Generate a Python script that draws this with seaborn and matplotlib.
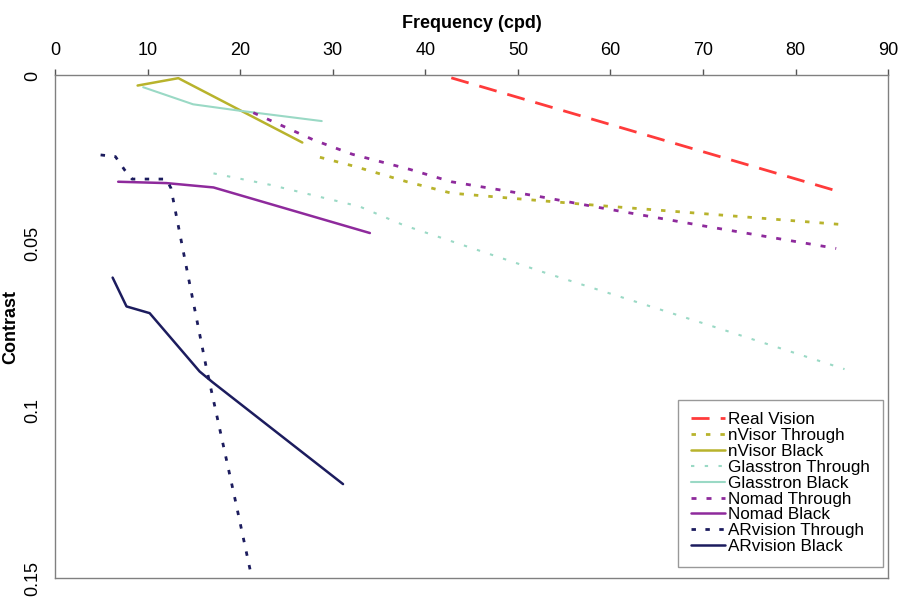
import matplotlib
matplotlib.use("Agg")
import matplotlib.pyplot as plt
import seaborn as sns
import pandas as pd

sns.set_theme(style="white")
plt.rcParams['font.family'] = ['Liberation Sans', 'DejaVu Sans']
plt.rcParams['text.color'] = 'black'
plt.rcParams['axes.labelcolor'] = 'black'

# ---- data ----
real_x = [42.8, 84.4]
real_y = [0.0007, 0.0344]

nvisor_thr_x = [28.6, 32.2, 38.0, 42.8, 49.2, 58.8, 71.8, 84.7]
nvisor_thr_y = [0.0244, 0.0270, 0.0317, 0.0351, 0.0366, 0.0388, 0.0416, 0.0444]

nvisor_blk_x = [8.9, 13.3, 26.7]
nvisor_blk_y = [0.0030, 0.0008, 0.0200]

glass_thr_x = [17.1, 23.2, 32.9, 37.6, 53.1, 70.0, 85.3]
glass_thr_y = [0.0292, 0.0326, 0.0391, 0.0446, 0.0590, 0.0739, 0.0876]

glass_blk_x = [9.5, 14.9, 19.9, 28.8]
glass_blk_y = [0.0035, 0.0086, 0.0105, 0.0136]

nomad_thr_x = [21.4, 27.9, 32.1, 38.3, 42.8, 52.3, 58.8, 69.9, 84.4]
nomad_thr_y = [0.0111, 0.0192, 0.0235, 0.0280, 0.0317, 0.0361, 0.0394, 0.0448, 0.0516]

nomad_blk_x = [6.8, 12.0, 17.1, 34.0]
nomad_blk_y = [0.0317, 0.0321, 0.0334, 0.0470]

arv_thr_x = [4.9, 6.5, 7.5, 8.3, 12.0, 12.5, 14.4, 16.3, 19.4, 21.1]
arv_thr_y = [0.0237, 0.0242, 0.0282, 0.0309, 0.0309, 0.0336, 0.0604, 0.0868, 0.1260, 0.1480]

arv_blk_x = [6.2, 7.7, 10.2, 15.6, 17.0, 31.1]
arv_blk_y = [0.0603, 0.0689, 0.0709, 0.0883, 0.0915, 0.1219]

labels = ["Real Vision", "nVisor Through", "nVisor Black", "Glasstron Through",
          "Glasstron Black", "Nomad Through", "Nomad Black",
          "ARvision Through", "ARvision Black"]

x_ticks = [0, 10, 20, 30, 40, 50, 60, 70, 80, 90]
y_ticks = [0, 0.05, 0.1, 0.15]
y_tick_labels = ["0", "0.05", "0.1", "0.15"]

series = [
    (real_x, real_y, "#FF3B3B", 2.0, (0, (6.5, 4.0))),
    (nvisor_thr_x, nvisor_thr_y, "#B8B32C", 2.0, (0, (1.6, 3.6))),
    (nvisor_blk_x, nvisor_blk_y, "#B8B32C", 1.8, "-"),
    (glass_thr_x, glass_thr_y, "#9AD9C5", 1.5, (0, (1.6, 5.0))),
    (glass_blk_x, glass_blk_y, "#9AD9C5", 1.5, "-"),
    (nomad_thr_x, nomad_thr_y, "#8E2A9C", 2.0, (0, (1.8, 3.6))),
    (nomad_blk_x, nomad_blk_y, "#8E2A9C", 1.8, "-"),
    (arv_thr_x, arv_thr_y, "#1C1C5E", 2.0, (0, (1.6, 3.4))),
    (arv_blk_x, arv_blk_y, "#1C1C5E", 1.8, "-"),
]

fig = plt.figure(figsize=(9, 6.01), dpi=100)
ax = fig.add_axes([0.0614, 0.0378, 0.9253, 0.8366])

for (xs, ys, col, lw, ls), lab in zip(series, labels):
    sns.lineplot(x=xs, y=ys, ax=ax, color=col, linewidth=lw, linestyle=ls,
                 label=lab, sort=False, estimator=None)

ax.set_xlim(0, 90)
ax.set_ylim(0.15, 0)
ax.xaxis.tick_top()
ax.xaxis.set_label_position("top")
ax.set_xticks(x_ticks)
ax.set_yticks(y_ticks)
ax.set_yticklabels(y_tick_labels, rotation=90, va="center")
ax.tick_params(axis="both", labelsize=13, labelcolor="black", color="#555555",
               length=4, width=1, direction="out")
ax.tick_params(axis="x", pad=8)
ax.tick_params(axis="y", pad=6)
ax.set_xlabel("Frequency (cpd)", fontsize=13, fontweight="bold", labelpad=10,
              color="black")
ax.set_ylabel("Contrast", fontsize=13, fontweight="bold", labelpad=4,
              color="black")
for s in ax.spines.values():
    s.set_color("#808080")
    s.set_linewidth(1)
ax.grid(False)

leg = ax.legend(loc="lower right", bbox_to_anchor=(0.994, 0.0225), fontsize=12.3,
                frameon=True, fancybox=False, edgecolor="#808080",
                handlelength=2.0, handletextpad=0.2, labelspacing=0.05,
                borderpad=0.75, borderaxespad=0)
leg.get_frame().set_linewidth(1)
for t in leg.get_texts():
    t.set_color("black")

fig.savefig("out.png", dpi=100)
